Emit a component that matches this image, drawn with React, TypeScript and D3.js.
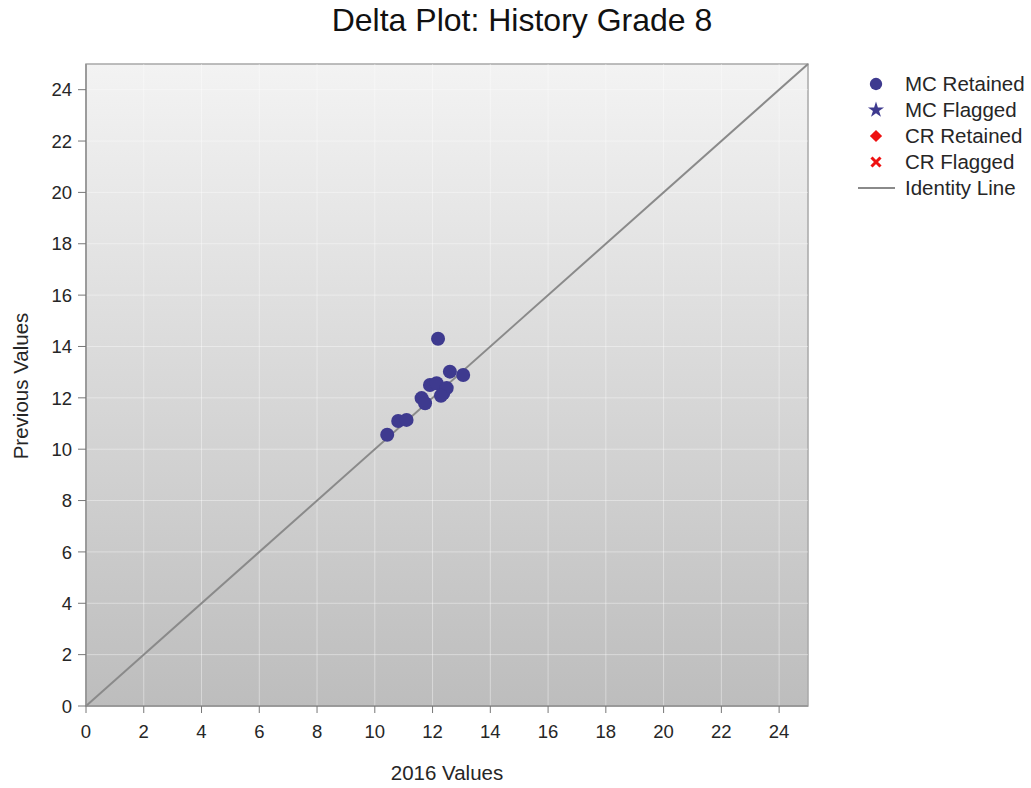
import React from "react";
import * as d3 from "d3";

const TITLE = "Delta Plot: History Grade 8";
const X_LABEL = "2016 Values";
const Y_LABEL = "Previous Values";
const AXIS_TICKS = [0, 2, 4, 6, 8, 10, 12, 14, 16, 18, 20, 22, 24];
const AXIS_DOMAIN = [0, 25];

// MC Retained items: [2016 value, previous value]
const mcRetainedX = [12.19, 10.43, 10.81, 11.1, 11.62, 11.74, 11.91, 12.14, 12.37, 12.49, 12.6, 13.06, 12.29];
const mcRetainedY = [14.3, 10.56, 11.1, 11.14, 11.99, 11.79, 12.5, 12.57, 12.18, 12.38, 13.02, 12.89, 12.08];
const mcFlaggedX: number[] = [];
const mcFlaggedY: number[] = [];
const crRetainedX: number[] = [];
const crRetainedY: number[] = [];
const crFlaggedX: number[] = [];
const crFlaggedY: number[] = [];

const LEGEND_LABELS = ["MC Retained", "MC Flagged", "CR Retained", "CR Flagged", "Identity Line"];

const W = 1031;
const H = 788;
const M = { left: 86, right: 808, top: 64, bottom: 706 };
const FONT = "'Liberation Sans', Arial, sans-serif";
const BLUE = "#3e3a8f";
const RED = "#ee1111";
const TEXT = "#262626";

export default function App() {
  const x = d3.scaleLinear().domain(AXIS_DOMAIN).range([M.left, M.right]);
  const y = d3.scaleLinear().domain(AXIS_DOMAIN).range([M.bottom, M.top]);
  const line = d3.line<number>().x((d) => x(d)).y((d) => y(d));
  const star = d3.symbol().type(d3.symbolStar).size(80)() as string;
  const diamond = d3.symbol().type(d3.symbolSquare).size(75)() as string;
  const cross = d3.symbol().type(d3.symbolX).size(55)() as string;
  const circle = d3.symbol().type(d3.symbolCircle).size(120)() as string;

  const mcR = mcRetainedX.map((v, i) => [v, mcRetainedY[i]]);
  const mcF = mcFlaggedX.map((v, i) => [v, mcFlaggedY[i]]);
  const crR = crRetainedX.map((v, i) => [v, crRetainedY[i]]);
  const crF = crFlaggedX.map((v, i) => [v, crFlaggedY[i]]);

  const legendY0 = 84;
  const legendStep = 26;

  return (
    <svg width={W} height={H} style={{ position: "absolute", left: 0, top: 0, background: "#fff" }}>
      <defs>
        <linearGradient id="bg" x1="0" y1="0" x2="0" y2="1">
          <stop offset="0%" stopColor="#f3f3f3" />
          <stop offset="100%" stopColor="#bdbdbd" />
        </linearGradient>
      </defs>
      <text x={522} y={31} textAnchor="middle" fontFamily={FONT} fontSize={32} fill="#111">
        {TITLE}
      </text>
      <rect x={M.left} y={M.top} width={M.right - M.left} height={M.bottom - M.top} fill="url(#bg)" stroke="#a8a8a8" strokeWidth={1.5} />
      {AXIS_TICKS.map((t) => (
        <g key={"g" + t}>
          <line x1={x(t)} x2={x(t)} y1={M.top} y2={M.bottom} stroke="#ffffff" strokeOpacity={0.4} strokeWidth={1} />
          <line x1={M.left} x2={M.right} y1={y(t)} y2={y(t)} stroke="#ffffff" strokeOpacity={0.4} strokeWidth={1} />
        </g>
      ))}
      <line x1={M.left} x2={M.right} y1={M.bottom} y2={M.bottom} stroke="#8c8c8c" strokeWidth={1.5} />
      <line x1={M.left} x2={M.left} y1={M.top} y2={M.bottom} stroke="#8c8c8c" strokeWidth={1.5} />
      {AXIS_TICKS.map((t) => (
        <g key={"xt" + t}>
          <line x1={x(t)} x2={x(t)} y1={M.bottom} y2={M.bottom + 7} stroke="#777" />
          <text x={x(t)} y={738} textAnchor="middle" fontFamily={FONT} fontSize={18.5} fill={TEXT}>
            {t}
          </text>
        </g>
      ))}
      {AXIS_TICKS.map((t) => (
        <g key={"yt" + t}>
          <line x1={M.left - 8} x2={M.left} y1={y(t)} y2={y(t)} stroke="#777" />
          <text x={72} y={y(t)} dy="0.36em" textAnchor="end" fontFamily={FONT} fontSize={18.5} fill={TEXT}>
            {t}
          </text>
        </g>
      ))}
      <text x={447} y={780} textAnchor="middle" fontFamily={FONT} fontSize={20.5} fill={TEXT}>
        {X_LABEL}
      </text>
      <text transform={`translate(28,386) rotate(-90)`} textAnchor="middle" fontFamily={FONT} fontSize={20.5} fill={TEXT}>
        {Y_LABEL}
      </text>
      <path d={line(AXIS_DOMAIN) as string} stroke="#8a8a8a" strokeWidth={2} fill="none" />
      {mcR.map((d, i) => (
        <circle key={"mr" + i} cx={x(d[0])} cy={y(d[1])} r={7} fill={BLUE} />
      ))}
      {mcF.map((d, i) => (
        <path key={"mf" + i} d={star} transform={`translate(${x(d[0])},${y(d[1])})`} fill={BLUE} />
      ))}
      {crR.map((d, i) => (
        <path key={"cr" + i} d={diamond} transform={`translate(${x(d[0])},${y(d[1])}) rotate(45)`} fill={RED} />
      ))}
      {crF.map((d, i) => (
        <path key={"cf" + i} d={cross} transform={`translate(${x(d[0])},${y(d[1])})`} fill="none" stroke={RED} strokeWidth={3} />
      ))}
      <g fontFamily={FONT} fontSize={20.5} fill={TEXT}>
        <path d={circle} transform={`translate(876,${legendY0})`} fill={BLUE} />
        <path d={star} transform={`translate(876,${legendY0 + legendStep})`} fill={BLUE} />
        <path d={diamond} transform={`translate(876,${legendY0 + legendStep * 2}) rotate(45)`} fill={RED} />
        <path d={cross} transform={`translate(876,${legendY0 + legendStep * 3})`} fill="none" stroke={RED} strokeWidth={3} />
        <line x1={858} x2={895} y1={legendY0 + legendStep * 4} y2={legendY0 + legendStep * 4} stroke="#8a8a8a" strokeWidth={2} />
        {LEGEND_LABELS.map((l, i) => (
          <text key={l} x={905} y={legendY0 + legendStep * i} dy="0.36em">
            {l}
          </text>
        ))}
      </g>
    </svg>
  );
}
